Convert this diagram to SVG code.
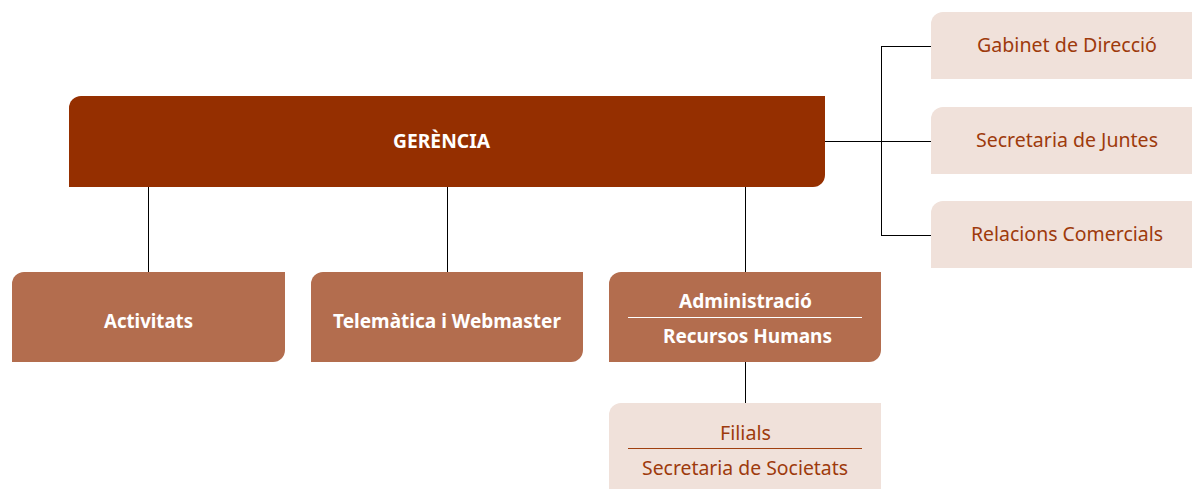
<svg xmlns="http://www.w3.org/2000/svg" width="1192" height="489" viewBox="0 0 1192 489">
<style>
.dark{fill:#952F00}
.mid{fill:#B36D4E}
.light{fill:#F0E1DA}
.tw{font-family:"Noto Sans","Open Sans",sans-serif;font-weight:bold;font-size:19.5px;fill:#FFFFFF;text-anchor:middle}
.tb{font-family:"Noto Sans","Open Sans",sans-serif;font-size:20.5px;fill:#9E3A0C;text-anchor:middle}
.conn{stroke:#000;stroke-width:1;fill:none}
</style>
<rect width="1192" height="489" fill="#FFFFFF"/>
<g id="connectors">
<path class="conn" d="M825 141.5H931M881.5 46V235M881 46.5H931M881 235.5H931"/>
<path class="conn" d="M148.5 187V272M447.5 187V272M745.5 187V272M745.5 362V403"/>
</g>
<g id="gerencia">
<path class="dark" d="M81 96H825V175A12 12 0 0 1 813 187H69V108A12 12 0 0 1 81 96Z"/>
<text class="tw" x="441.5" y="148" textLength="97" lengthAdjust="spacingAndGlyphs">GERÈNCIA</text>
</g>
<g id="activitats">
<path class="mid" d="M24 272H285V350A12 12 0 0 1 273 362H12V284A12 12 0 0 1 24 272Z"/>
<text class="tw" x="148.5" y="328" textLength="89" lengthAdjust="spacingAndGlyphs">Activitats</text>
</g>
<g id="telematica">
<path class="mid" d="M323 272H583V350A12 12 0 0 1 571 362H311V284A12 12 0 0 1 323 272Z"/>
<text class="tw" x="447" y="328" textLength="228" lengthAdjust="spacingAndGlyphs">Telemàtica i Webmaster</text>
</g>
<g id="administracio">
<path class="mid" d="M621 272H881V350A12 12 0 0 1 869 362H609V284A12 12 0 0 1 621 272Z"/>
<text class="tw" x="745.5" y="308" textLength="133" lengthAdjust="spacingAndGlyphs">Administració</text>
<line x1="628" y1="317.5" x2="862" y2="317.5" stroke="#FFFFFF" stroke-width="1"/>
<text class="tw" x="747.5" y="343" textLength="169" lengthAdjust="spacingAndGlyphs">Recursos Humans</text>
</g>
<g id="filials">
<path class="light" d="M621 403H881V489H609V415A12 12 0 0 1 621 403Z"/>
<text class="tb" x="745.5" y="440" textLength="51" lengthAdjust="spacingAndGlyphs">Filials</text>
<line x1="628" y1="448.5" x2="862" y2="448.5" stroke="#A0400F" stroke-width="1"/>
<text class="tb" x="745" y="475" textLength="206" lengthAdjust="spacingAndGlyphs">Secretaria de Societats</text>
</g>
<g id="gabinet">
<path class="light" d="M943 12H1192V79H931V24A12 12 0 0 1 943 12Z"/>
<text class="tb" x="1067" y="52" textLength="180" lengthAdjust="spacingAndGlyphs">Gabinet de Direcció</text>
</g>
<g id="secretaria-juntes">
<path class="light" d="M943 107H1192V174H931V119A12 12 0 0 1 943 107Z"/>
<text class="tb" x="1067" y="147" textLength="182" lengthAdjust="spacingAndGlyphs">Secretaria de Juntes</text>
</g>
<g id="relacions">
<path class="light" d="M943 201H1192V268H931V213A12 12 0 0 1 943 201Z"/>
<text class="tb" x="1067" y="241" textLength="192" lengthAdjust="spacingAndGlyphs">Relacions Comercials</text>
</g>
</svg>
